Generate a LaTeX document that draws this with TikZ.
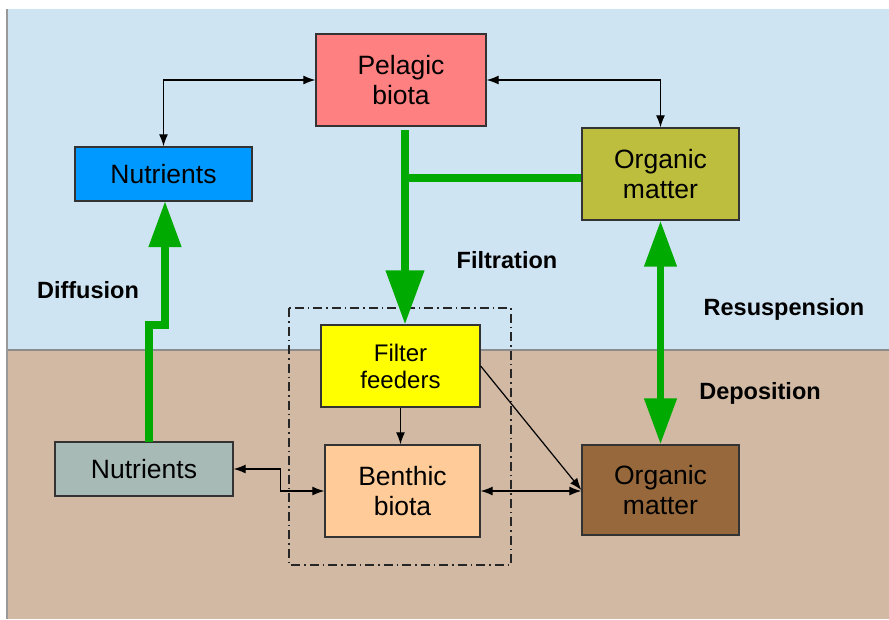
\documentclass[tikz,border=0pt]{standalone}
\usepackage{fontspec}
\setmainfont{Liberation Sans}
\usetikzlibrary{arrows.meta}

\definecolor{water}{RGB}{207,228,242}
\definecolor{sediment}{RGB}{209,185,163}
\definecolor{pelagic}{RGB}{255,128,128}
\definecolor{nutblue}{RGB}{0,153,255}
\definecolor{olive}{RGB}{189,189,62}
\definecolor{filter}{RGB}{255,255,0}
\definecolor{benthic}{RGB}{255,204,153}
\definecolor{nutgray}{RGB}{168,186,181}
\definecolor{brownom}{RGB}{150,104,60}
\definecolor{flowgreen}{RGB}{0,170,0}

\tikzset{
	bigtip/.tip={Triangle[length=54pt,width=37pt]},
	midtip/.tip={Triangle[length=46pt,width=31pt]},
	smalltip/.tip={Latex[length=12pt,width=9pt]}
}

\begin{document}
\begin{tikzpicture}[x=1pt,y=-1pt,
		box/.style={draw=black!80, line width=1.3pt, align=center,
			font=\fontsize{26.5}{30}\selectfont, inner sep=0pt},
		flow/.style={draw=flowgreen, line width=7.5pt},
		link/.style={draw=black, line width=1.2pt},
		lbl/.style={font=\bfseries\fontsize{23.5}{26}\selectfont}]
		\useasboundingbox (0,0) rectangle (889,619);
		% water column and sediment
		\fill[water] (7,9) rectangle (889,350);
		\fill[sediment] (7,350) rectangle (889,619);
		\draw[black!45, line width=1.2pt] (7,350) -- (889,350);
		\draw[black!40, line width=1.5pt] (7,9) -- (7,619);
		% compartments
		\node[box, fill=pelagic, minimum width=170pt, minimum height=92pt] (pel) at (401,80) {Pelagic\\biota};
		\node[box, fill=nutblue, minimum width=177pt, minimum height=54pt] (nut1) at (163.5,174) {Nutrients};
		\node[box, fill=olive, minimum width=157pt, minimum height=92pt] (om1) at (660.5,174) {Organic\\matter};
		\node[box, fill=filter, minimum width=159pt, minimum height=82pt,
			font=\fontsize{24}{27}\selectfont] (ff) at (400.5,366) {Filter\\feeders};
		\node[box, fill=benthic, minimum width=155pt, minimum height=92pt] (bb) at (402.5,491) {Benthic\\biota};
		\node[box, fill=nutgray, minimum width=178pt, minimum height=54pt] (nut2) at (144,469) {Nutrients};
		\node[box, fill=brownom, minimum width=157pt, minimum height=90pt] (om2) at (660.5,490) {Organic\\matter};
		% benthic group
		\draw[black!85, line width=1.1pt, dash pattern=on 9pt off 4pt on 1.5pt off 4pt]
			(289,308) rectangle (511,565);
		% green fluxes
		\coordinate (fstart) at (405,130);
		\draw[flow] ([yshift=-4pt]om1.west) -- (fstart |- 0,178);
		\draw[flow, -bigtip] (fstart) -- (fstart |- ff.north);
		\coordinate (dstart) at (149,442);
		\draw[flow, -midtip] (dstart) -- (149,325) -- (165,325) -- (165,201);
		\draw[flow, midtip-midtip] (om1.south) -- (om2.north);
		% exchanges
		\draw[link, smalltip-smalltip] (nut1.north) |- (pel.west);
		\draw[link, smalltip-smalltip] (pel.east) -| (om1.north);
		\draw[link, -smalltip] (ff.south) -- (ff.south |- bb.north);
		\draw[link, -smalltip] (ff.east) -- (om2.west);
		\draw[link, smalltip-smalltip] (bb.east) -- (bb.east -| om2.west);
		\draw[link, smalltip-smalltip] (nut2.east) -- ++(47,0) |- (bb.west);
		% labels
		\node[lbl] (filt) at (507,260) {Filtration};
		\node[lbl] (diff) at (88,290) {Diffusion};
		\node[lbl] (resus) at (784,309) {Resuspension};
		\node[lbl] (depo) at (760,393) {Deposition};
\end{tikzpicture}
\end{document}
